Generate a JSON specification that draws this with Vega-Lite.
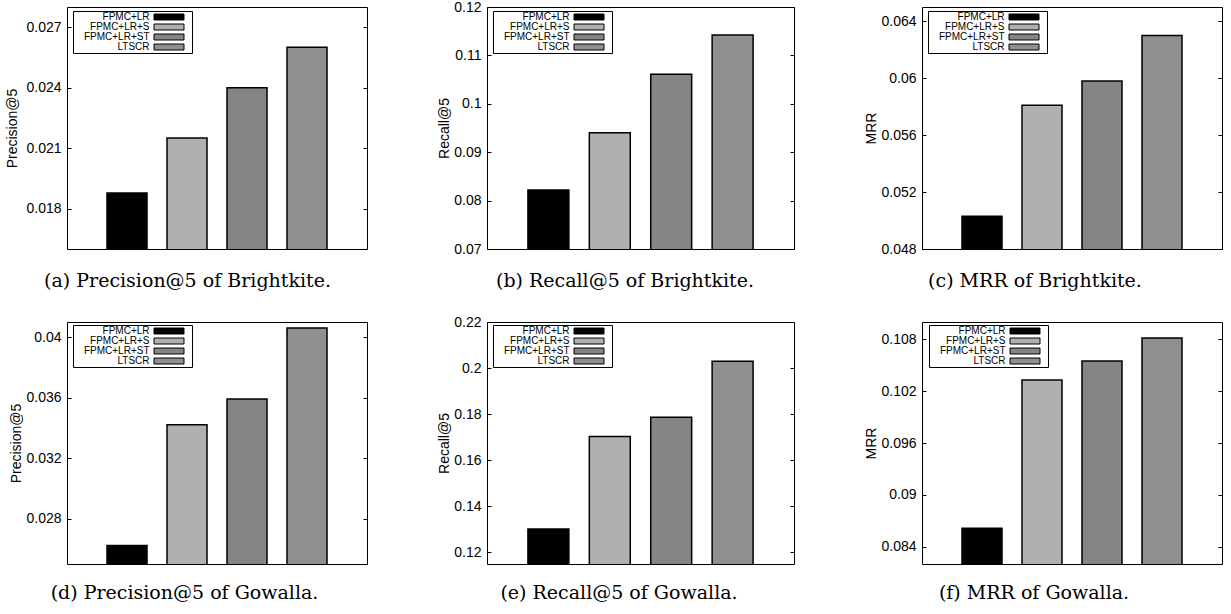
{
  "$schema": "https://vega.github.io/schema/vega-lite/v6.json",
  "padding": {"left": 5, "top": -1, "right": 0, "bottom": 0},
  "background": "white",
  "datasets": {
    "d": [
      {"panel": "a", "method": "FPMC+LR", "value": 0.01878},
      {"panel": "a", "method": "FPMC+LR+S", "value": 0.0215},
      {"panel": "a", "method": "FPMC+LR+ST", "value": 0.0240},
      {"panel": "a", "method": "LTSCR", "value": 0.0260},
      {"panel": "b", "method": "FPMC+LR", "value": 0.0822},
      {"panel": "b", "method": "FPMC+LR+S", "value": 0.0940},
      {"panel": "b", "method": "FPMC+LR+ST", "value": 0.1061},
      {"panel": "b", "method": "LTSCR", "value": 0.1142},
      {"panel": "c", "method": "FPMC+LR", "value": 0.0503},
      {"panel": "c", "method": "FPMC+LR+S", "value": 0.0581},
      {"panel": "c", "method": "FPMC+LR+ST", "value": 0.0598},
      {"panel": "c", "method": "LTSCR", "value": 0.0630},
      {"panel": "d", "method": "FPMC+LR", "value": 0.02623},
      {"panel": "d", "method": "FPMC+LR+S", "value": 0.03421},
      {"panel": "d", "method": "FPMC+LR+ST", "value": 0.03591},
      {"panel": "d", "method": "LTSCR", "value": 0.0406},
      {"panel": "e", "method": "FPMC+LR", "value": 0.1302},
      {"panel": "e", "method": "FPMC+LR+S", "value": 0.1703},
      {"panel": "e", "method": "FPMC+LR+ST", "value": 0.1787},
      {"panel": "e", "method": "LTSCR", "value": 0.2030},
      {"panel": "f", "method": "FPMC+LR", "value": 0.08613},
      {"panel": "f", "method": "FPMC+LR+S", "value": 0.1033},
      {"panel": "f", "method": "FPMC+LR+ST", "value": 0.1055},
      {"panel": "f", "method": "LTSCR", "value": 0.10816}
    ]
  },
  "config": {
    "view": {"stroke": "black", "strokeWidth": 1},
    "font": "Liberation Sans",
    "axis": {
      "labelFont": "Liberation Sans", "labelFontSize": 14, "labelColor": "black",
      "titleFont": "Liberation Sans", "titleFontSize": 14, "titleFontWeight": "normal", "titleColor": "black",
      "tickColor": "black", "tickSize": -4, "labelPadding": 10, "grid": false, "domain": false, "titlePadding": 2
    },
    "legend": {
      "labelFont": "Liberation Sans", "labelFontSize": 10, "labelColor": "black",
      "labelAlign": "right", "labelLimit": 200,
      "symbolType": "M-5,-1H5V1H-5Z M6.5,0", "symbolSize": 36,
      "symbolStrokeColor": "black", "symbolStrokeWidth": 1,
      "symbolOffset": 90, "labelOffset": -24.5,
      "rowPadding": -0.5,
      "padding": 1,
      "strokeColor": "black", "fillColor": "white"
    },
    "title": {
      "font": "DejaVu Serif", "fontSize": 19, "fontWeight": "normal", "color": "black",
      "orient": "bottom", "anchor": "middle", "frame": "group", "baseline": "alphabetic"
    },
    "concat": {"spacing": 69}
  },
  "resolve": {"scale": {"fill": "independent"}, "legend": {"fill": "independent"}},
  "spacing": 22,
  "vconcat": [
    {
      "resolve": {"scale": {"fill": "independent"}, "legend": {"fill": "independent"}},
      "hconcat": [
        {
          "width": 300, "height": 242,
          "title": {"text": "(a) Precision@5 of Brightkite.", "dx": -29.5, "offset": 23},
          "data": {"name": "d"},
          "transform": [{"filter": "datum.panel === 'a'"}],
          "layer": [
            {"mark": {"type": "bar", "stroke": "black", "strokeWidth": 1.5, "clip": true},
             "encoding": {
               "x": {"field": "method", "type": "nominal", "sort": null, "axis": null, "scale": {"paddingInner": 0.3333, "paddingOuter": 0.6667}},
               "y": {"field": "value", "type": "quantitative", "scale": {"domain": [0.016, 0.028], "zero": false, "nice": false}, "axis": {"title": "Precision@5", "values": [0.018, 0.021, 0.024, 0.027], "format": "~g", "titlePadding": 6}},
               "fill": {"field": "method", "type": "nominal", "sort": null, "scale": {"domain": ["FPMC+LR", "FPMC+LR+S", "FPMC+LR+ST", "LTSCR"], "range": ["#000000", "#b0b0b0", "#858585", "#8f8f8f"]}, "legend": {"title": null, "orient": "none", "legendX": 6, "legendY": 4}}
             }},
            {"mark": {"type": "bar", "opacity": 0, "clip": true},
             "encoding": {
               "x": {"field": "method", "type": "nominal", "sort": null, "axis": null},
               "y": {"field": "value", "type": "quantitative", "axis": {"orient": "right", "labels": false, "title": null, "values": [0.018, 0.021, 0.024, 0.027]}}
             }}
          ],
          "resolve": {"axis": {"y": "independent"}}
        },
        {
          "width": 307, "height": 242,
          "title": {"text": "(b) Recall@5 of Brightkite.", "dx": -15.5, "offset": 16},
          "data": {"name": "d"},
          "transform": [{"filter": "datum.panel === 'b'"}],
          "layer": [
            {"mark": {"type": "bar", "stroke": "black", "strokeWidth": 1.5, "clip": true},
             "encoding": {
               "x": {"field": "method", "type": "nominal", "sort": null, "axis": null, "scale": {"paddingInner": 0.3333, "paddingOuter": 0.6667}},
               "y": {"field": "value", "type": "quantitative", "scale": {"domain": [0.07, 0.12], "zero": false, "nice": false}, "axis": {"title": "Recall@5", "values": [0.07, 0.08, 0.09, 0.1, 0.11, 0.12], "format": "~g"}},
               "fill": {"field": "method", "type": "nominal", "sort": null, "scale": {"domain": ["FPMC+LR", "FPMC+LR+S", "FPMC+LR+ST", "LTSCR"], "range": ["#000000", "#b0b0b0", "#858585", "#8f8f8f"]}, "legend": {"title": null, "orient": "none", "legendX": 6, "legendY": 4}}
             }},
            {"mark": {"type": "bar", "opacity": 0, "clip": true},
             "encoding": {
               "x": {"field": "method", "type": "nominal", "sort": null, "axis": null},
               "y": {"field": "value", "type": "quantitative", "axis": {"orient": "right", "labels": false, "title": null, "values": [0.07, 0.08, 0.09, 0.1, 0.11, 0.12]}}
             }}
          ],
          "resolve": {"axis": {"y": "independent"}}
        },
        {
          "width": 300, "height": 242,
          "title": {"text": "(c) MRR of Brightkite.", "dx": -37, "offset": 16},
          "data": {"name": "d"},
          "transform": [{"filter": "datum.panel === 'c'"}],
          "layer": [
            {"mark": {"type": "bar", "stroke": "black", "strokeWidth": 1.5, "clip": true},
             "encoding": {
               "x": {"field": "method", "type": "nominal", "sort": null, "axis": null, "scale": {"paddingInner": 0.3333, "paddingOuter": 0.6667}},
               "y": {"field": "value", "type": "quantitative", "scale": {"domain": [0.048, 0.065], "zero": false, "nice": false}, "axis": {"title": "MRR", "values": [0.048, 0.052, 0.056, 0.06, 0.064], "format": "~g"}},
               "fill": {"field": "method", "type": "nominal", "sort": null, "scale": {"domain": ["FPMC+LR", "FPMC+LR+S", "FPMC+LR+ST", "LTSCR"], "range": ["#000000", "#b0b0b0", "#858585", "#8f8f8f"]}, "legend": {"title": null, "orient": "none", "legendX": 6, "legendY": 4}}
             }},
            {"mark": {"type": "bar", "opacity": 0, "clip": true},
             "encoding": {
               "x": {"field": "method", "type": "nominal", "sort": null, "axis": null},
               "y": {"field": "value", "type": "quantitative", "axis": {"orient": "right", "labels": false, "title": null, "values": [0.048, 0.052, 0.056, 0.06, 0.064]}}
             }}
          ],
          "resolve": {"axis": {"y": "independent"}}
        }
      ]
    },
    {
      "resolve": {"scale": {"fill": "independent"}, "legend": {"fill": "independent"}},
      "hconcat": [
        {
          "width": 300, "height": 242,
          "title": {"text": "(d) Precision@5 of Gowalla.", "dx": -32.5, "offset": 20},
          "data": {"name": "d"},
          "transform": [{"filter": "datum.panel === 'd'"}],
          "layer": [
            {"mark": {"type": "bar", "stroke": "black", "strokeWidth": 1.5, "clip": true},
             "encoding": {
               "x": {"field": "method", "type": "nominal", "sort": null, "axis": null, "scale": {"paddingInner": 0.3333, "paddingOuter": 0.6667}},
               "y": {"field": "value", "type": "quantitative", "scale": {"domain": [0.025, 0.041], "zero": false, "nice": false}, "axis": {"title": "Precision@5", "values": [0.028, 0.032, 0.036, 0.04], "format": "~g"}},
               "fill": {"field": "method", "type": "nominal", "sort": null, "scale": {"domain": ["FPMC+LR", "FPMC+LR+S", "FPMC+LR+ST", "LTSCR"], "range": ["#000000", "#b0b0b0", "#858585", "#8f8f8f"]}, "legend": {"title": null, "orient": "none", "legendX": 6, "legendY": 3}}
             }},
            {"mark": {"type": "bar", "opacity": 0, "clip": true},
             "encoding": {
               "x": {"field": "method", "type": "nominal", "sort": null, "axis": null},
               "y": {"field": "value", "type": "quantitative", "axis": {"orient": "right", "labels": false, "title": null, "values": [0.028, 0.032, 0.036, 0.04]}}
             }}
          ],
          "resolve": {"axis": {"y": "independent"}}
        },
        {
          "width": 307, "height": 242,
          "title": {"text": "(e) Recall@5 of Gowalla.", "dx": -21.5, "offset": 20},
          "data": {"name": "d"},
          "transform": [{"filter": "datum.panel === 'e'"}],
          "layer": [
            {"mark": {"type": "bar", "stroke": "black", "strokeWidth": 1.5, "clip": true},
             "encoding": {
               "x": {"field": "method", "type": "nominal", "sort": null, "axis": null, "scale": {"paddingInner": 0.3333, "paddingOuter": 0.6667}},
               "y": {"field": "value", "type": "quantitative", "scale": {"domain": [0.115, 0.22], "zero": false, "nice": false}, "axis": {"title": "Recall@5", "values": [0.12, 0.14, 0.16, 0.18, 0.2, 0.22], "format": "~g"}},
               "fill": {"field": "method", "type": "nominal", "sort": null, "scale": {"domain": ["FPMC+LR", "FPMC+LR+S", "FPMC+LR+ST", "LTSCR"], "range": ["#000000", "#b0b0b0", "#858585", "#8f8f8f"]}, "legend": {"title": null, "orient": "none", "legendX": 6, "legendY": 3}}
             }},
            {"mark": {"type": "bar", "opacity": 0, "clip": true},
             "encoding": {
               "x": {"field": "method", "type": "nominal", "sort": null, "axis": null},
               "y": {"field": "value", "type": "quantitative", "axis": {"orient": "right", "labels": false, "title": null, "values": [0.12, 0.14, 0.16, 0.18, 0.2, 0.22]}}
             }}
          ],
          "resolve": {"axis": {"y": "independent"}}
        },
        {
          "width": 300, "height": 242,
          "title": {"text": "(f) MRR of Gowalla.", "dx": -38, "offset": 20},
          "data": {"name": "d"},
          "transform": [{"filter": "datum.panel === 'f'"}],
          "layer": [
            {"mark": {"type": "bar", "stroke": "black", "strokeWidth": 1.5, "clip": true},
             "encoding": {
               "x": {"field": "method", "type": "nominal", "sort": null, "axis": null, "scale": {"paddingInner": 0.3333, "paddingOuter": 0.6667}},
               "y": {"field": "value", "type": "quantitative", "scale": {"domain": [0.082, 0.11], "zero": false, "nice": false}, "axis": {"title": "MRR", "values": [0.084, 0.09, 0.096, 0.102, 0.108], "format": "~g"}},
               "fill": {"field": "method", "type": "nominal", "sort": null, "scale": {"domain": ["FPMC+LR", "FPMC+LR+S", "FPMC+LR+ST", "LTSCR"], "range": ["#000000", "#b0b0b0", "#858585", "#8f8f8f"]}, "legend": {"title": null, "orient": "none", "legendX": 7, "legendY": 3}}
             }},
            {"mark": {"type": "bar", "opacity": 0, "clip": true},
             "encoding": {
               "x": {"field": "method", "type": "nominal", "sort": null, "axis": null},
               "y": {"field": "value", "type": "quantitative", "axis": {"orient": "right", "labels": false, "title": null, "values": [0.084, 0.09, 0.096, 0.102, 0.108]}}
             }}
          ],
          "resolve": {"axis": {"y": "independent"}}
        }
      ]
    }
  ]
}
